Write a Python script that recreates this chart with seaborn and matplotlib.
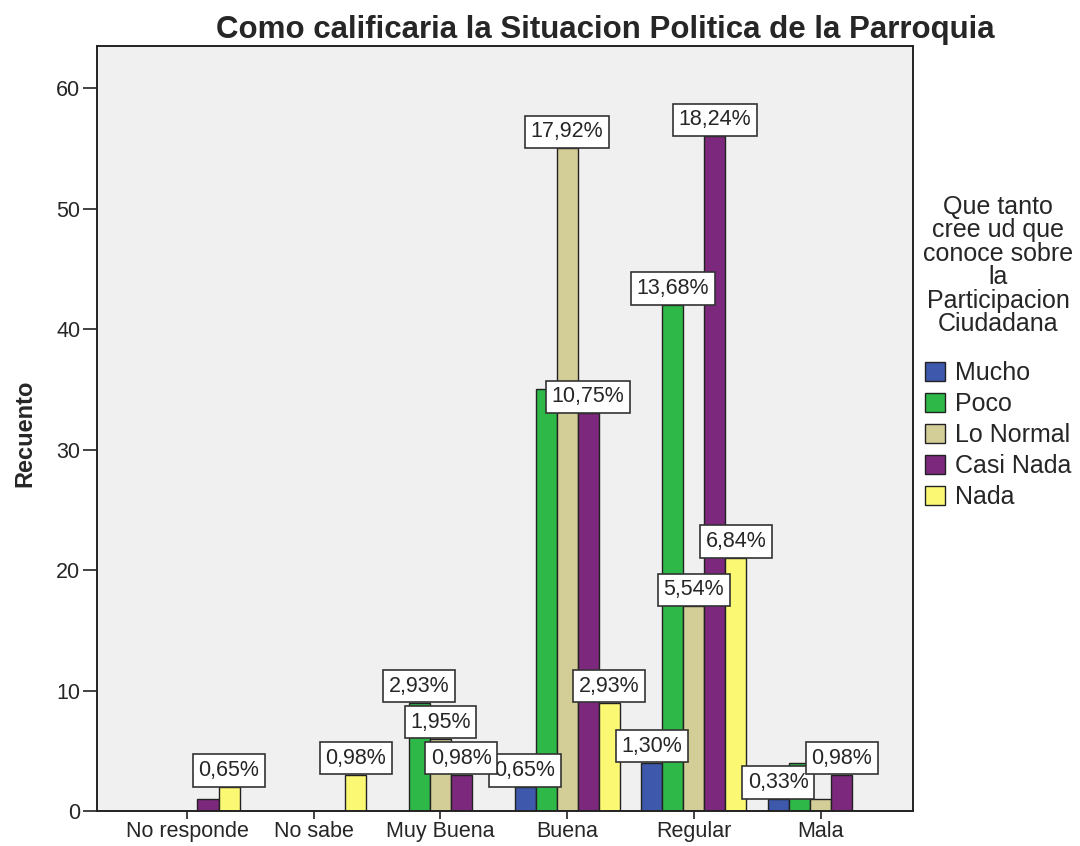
import numpy as np
import pandas as pd
import matplotlib.pyplot as plt
from matplotlib.patches import Patch
import seaborn as sns

# Categories
situacion = ["No responde", "No sabe", "Muy Buena", "Buena", "Regular", "Mala"]
conoce = ["Mucho", "Poco", "Lo Normal", "Casi Nada", "Nada"]

# Counts per category (same order as situacion)
mucho = [0, 0, 0, 2, 4, 1]
poco = [0, 0, 9, 35, 42, 4]
lo_normal = [0, 0, 6, 55, 17, 1]
casi_nada = [1, 0, 3, 33, 56, 3]
nada = [2, 3, 0, 9, 21, 0]

# Percentage labels printed in the original (1 = shown)
show_mucho = [0, 0, 0, 1, 1, 1]
show_poco = [0, 0, 1, 0, 1, 0]
show_lo_normal = [0, 0, 1, 1, 1, 0]
show_casi_nada = [0, 0, 1, 1, 1, 1]
show_nada = [1, 1, 0, 1, 1, 0]

colores = ["#3E58AC", "#2EB848", "#D3CE97", "#7C287D", "#FBF873"]

series = [mucho, poco, lo_normal, casi_nada, nada]
shows = [show_mucho, show_poco, show_lo_normal, show_casi_nada, show_nada]

rows = []
for nombre, vals in zip(conoce, series):
    for cat, v in zip(situacion, vals):
        rows.append((cat, nombre, v))
df = pd.DataFrame(rows, columns=["Situacion", "Conoce", "Recuento"])
total = df["Recuento"].sum()

sns.set_style("ticks")
plt.rcParams["font.family"] = ["Liberation Sans", "DejaVu Sans"]

fig = plt.figure(figsize=(10.8, 8.46), dpi=100)
ax = fig.add_axes([97 / 1080, 1 - 811 / 846, (913 - 97) / 1080, (811 - 46) / 846])
ax.set_facecolor("#F0F0F0")

sns.barplot(data=df, x="Situacion", y="Recuento", hue="Conoce",
            order=situacion, hue_order=conoce, palette=colores,
            saturation=1, width=0.83, edgecolor="#222222", linewidth=1,
            errorbar=None, legend=False, ax=ax)

# percentage labels on top of bars
for cont, vals, show in zip(ax.containers, series, shows):
    labels = []
    for v, s in zip(vals, show):
        if s:
            labels.append(f"{v / total * 100:.2f}".replace(".", ",") + "%")
        else:
            labels.append("")
    ax.bar_label(cont, labels=labels, padding=4.3, fontsize=15.5,
                 bbox=dict(boxstyle="square,pad=0.26", fc="white",
                           ec="#333333", lw=1.2))

ax.set_ylim(0, 63.5)
ax.set_xlim(-0.71, 5.73)
ax.set_yticks([0, 10, 20, 30, 40, 50, 60])
ax.set_xlabel("")
ax.set_ylabel("")
ax.tick_params(axis="y", labelsize=15.5, length=10, width=1.2,
               color="#222222", pad=2)
ax.tick_params(axis="x", labelsize=15.5, length=6, width=1.2,
               color="#222222", pad=1)
for sp in ax.spines.values():
    sp.set_visible(True)
    sp.set_color("#222222")
    sp.set_linewidth(1.4)

fig.text(605 / 1080, 1 - 38 / 846,
         "Como calificaria la Situacion Politica de la Parroquia",
         ha="center", va="baseline", fontsize=22.5, fontweight="bold")
fig.text(25 / 1080, 1 - 433 / 846, "Recuento", rotation=90,
         ha="center", va="center", fontsize=17, fontweight="bold")

handles = [Patch(facecolor=c, edgecolor="#222222", label=n)
           for c, n in zip(colores, conoce)]
leg = fig.legend(handles=handles,
                 title="Que tanto\ncree ud que\nconoce sobre\nla\nParticipacion\nCiudadana",
                 loc="upper left", bbox_to_anchor=(923 / 1080, 1 - 195 / 846),
                 frameon=False, fontsize=18, title_fontsize=18,
                 handlelength=0.8, handleheight=0.8, handletextpad=0.4,
                 labelspacing=0.28, alignment="center",
                 borderpad=0, borderaxespad=0)
leg.get_title().set_linespacing(0.97)
leg.get_title().set_multialignment("center")
leg._legend_box.sep = 18

fig.savefig("out.png", dpi=100)
